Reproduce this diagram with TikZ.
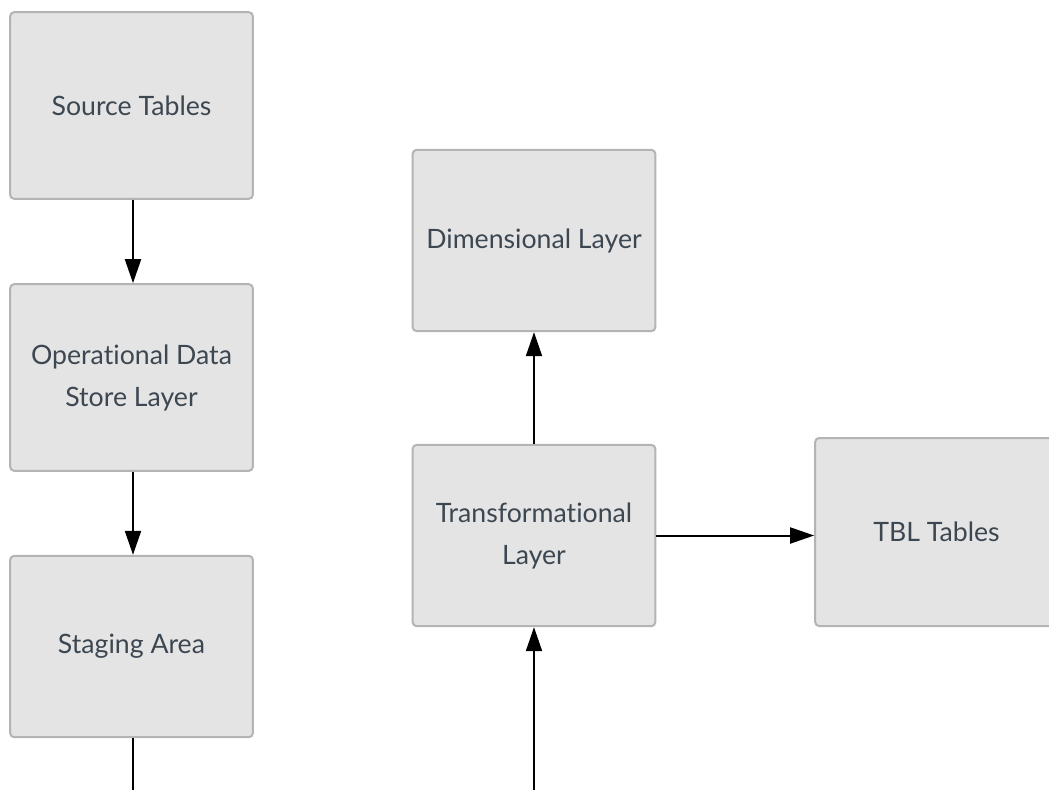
\documentclass[tikz,border=0pt]{standalone}
\usepackage{fontspec}
\setmainfont{Lato}[Ligatures=NoCommon]
\usetikzlibrary{arrows.meta}
\definecolor{boxfill}{HTML}{E4E4E4}
\definecolor{boxline}{HTML}{B4B4B4}
\definecolor{boxtext}{HTML}{3D4752}
\tikzset{
  layer/.style={draw=boxline, fill=boxfill, line width=1.5pt, rounded corners=3pt,
    text=boxtext, align=center, inner sep=0pt, minimum width=182pt,
    font=\fontsize{20}{31.5}\selectfont},
  flow/.style={line width=1.5pt, -{Triangle[length=18pt,width=12pt]}},
}
\begin{document}
\begin{tikzpicture}[x=0.75pt,y=-0.75pt]
  \useasboundingbox (0,0) rectangle (1049,789);
  \clip (0,0) rectangle (1049,789);

  %%%%% left column %%%%%
  \node[layer, minimum height=140pt] (src) at (131.5,105.5) {Source Tables};
  \node[layer, minimum height=140pt] (ods) at (131.5,377.5) {Operational Data\\Store Layer};
  \node[layer, minimum height=136pt] (stage) at (131.5,646.5) {Staging Area};

  %%%%% right part %%%%%
  \node[layer, minimum height=136pt] (dim) at (534,240.5) {Dimensional Layer};
  \node[layer, minimum height=136pt] (trans) at (534,535.5) {Transformational\\Layer};
  \node[layer, minimum height=141pt] (tbl) at (936.5,532) {TBL Tables};

  \coordinate (stageout) at (133,795);
  \coordinate (transin) at (534,795);

  \draw[flow] (src.south -| 133,0) -- (ods.north -| 133,0);
  \draw[flow] (ods.south -| 133,0) -- (stage.north -| 133,0);
  \draw[line width=1.5pt] (stage.south -| stageout) -- (stageout);
  \draw[flow] (transin) -- (trans.south);
  \draw[flow] (trans.north) -- (dim.south);
  \draw[flow] (trans.east) -- (trans.east -| tbl.west);
\end{tikzpicture}
\end{document}
